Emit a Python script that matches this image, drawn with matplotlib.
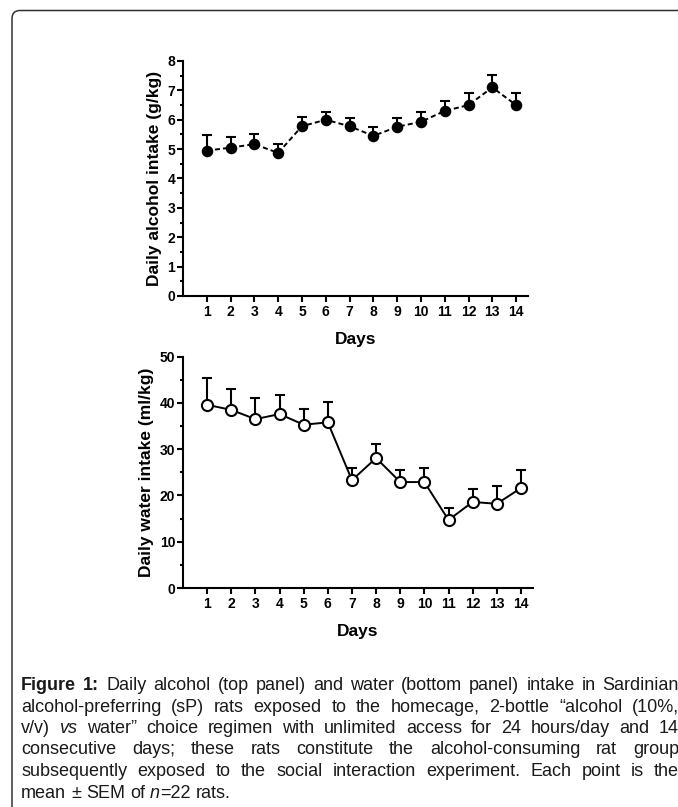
import matplotlib
matplotlib.use("Agg")
import matplotlib.pyplot as plt
from matplotlib.patches import FancyBboxPatch
from matplotlib.ticker import MultipleLocator

# data
days = list(range(1, 15))
alcohol_mean = [4.95, 5.05, 5.17, 4.87, 5.78, 6.00, 5.78, 5.45, 5.76, 5.93, 6.30, 6.50, 7.10, 6.50]
alcohol_sem = [0.54, 0.35, 0.35, 0.30, 0.31, 0.28, 0.29, 0.30, 0.31, 0.35, 0.35, 0.40, 0.42, 0.42]
water_mean = [39.6, 38.5, 36.5, 37.6, 35.3, 35.8, 23.3, 28.1, 22.9, 22.9, 14.7, 18.6, 18.2, 21.6]
water_sem = [5.9, 4.6, 4.5, 4.1, 3.3, 4.3, 2.7, 3.0, 2.6, 3.1, 2.6, 2.8, 3.9, 3.8]

# caption, one entry per printed line; "b:" bold, "i:" italic, "|" joins segments
caption_lines = [
    "b:Figure b:1: Daily alcohol (top panel) and water (bottom panel) intake in Sardinian",
    "alcohol-preferring (sP) rats exposed to the homecage, 2-bottle \u201calcohol (10%,",
    "v/v) i:vs water\u201d choice regimen with unlimited access for 24 hours/day and 14",
    "consecutive days; these rats constitute the alcohol-consuming rat group",
    "subsequently exposed to the social interaction experiment. Each point is the",
    "mean \u00b1 SEM of i:n|=22 rats.",
]

plt.rcParams['font.family'] = ['Liberation Sans', 'DejaVu Sans']
plt.rcParams['font.weight'] = 'bold'
cap_size = 13

W, H = 678, 807
fig = plt.figure(figsize=(W / 100, H / 100), dpi=100)

# overlay in pixel coords for the frame and caption
bg = fig.add_axes([0, 0, 1, 1], zorder=-1)
bg.set_xlim(0, W)
bg.set_ylim(H, 0)
bg.axis('off')
bg.add_patch(FancyBboxPatch((12, 10.5), 800, 900, boxstyle='round,pad=0,rounding_size=8',
                            lw=1.1, ec='#333333', fc='none'))


def style_axes(ax, ymax, ymajor, yminor, ylabel):
    ax.set_facecolor('none')
    for s in ['top', 'right']:
        ax.spines[s].set_visible(False)
    for s in ['left', 'bottom']:
        ax.spines[s].set_linewidth(1.5)
    ax.set_xlim(0, 14.5)
    ax.set_ylim(0, ymax)
    ax.set_xticks(days)
    ax.yaxis.set_major_locator(MultipleLocator(ymajor))
    ax.yaxis.set_minor_locator(MultipleLocator(yminor))
    ax.tick_params(which='major', length=4.5, width=1.5, labelsize=10, pad=2)
    ax.tick_params(which='minor', length=2.5, width=1.5)
    ax.tick_params(axis='y', pad=1)
    ax.set_xlabel('Days', fontsize=12.5, fontweight='bold', labelpad=9)
    ax.set_ylabel(ylabel, fontsize=12.5, fontweight='bold', labelpad=4)


# top panel: alcohol
ax1 = fig.add_axes([183 / W, 1 - 296 / H, 345 / W, 235 / H])
ax1.errorbar(days, alcohol_mean, yerr=[[0] * 14, alcohol_sem], fmt='none', ecolor='black',
             elinewidth=1.5, capsize=3.6, capthick=1.5, zorder=2, clip_on=False)
ax1.plot(days, alcohol_mean, color='black', lw=1.4, linestyle=(0, (2.6, 1.6)),
         marker='o', markersize=7.3, markerfacecolor='black', markeredgecolor='black',
         zorder=3, clip_on=False)
style_axes(ax1, 8, 1, 0.5, 'Daily alcohol intake (g/kg)')

# bottom panel: water
ax2 = fig.add_axes([183 / W, 1 - 588 / H, 350 / W, 231.3 / H])
ax2.errorbar(days, water_mean, yerr=[[0] * 14, water_sem], fmt='none', ecolor='black',
             elinewidth=1.5, capsize=3.6, capthick=1.5, zorder=2, clip_on=False)
ax2.plot(days, water_mean, color='black', lw=1.4, marker='o', markersize=8,
         markerfacecolor='white', markeredgecolor='black', markeredgewidth=1.5,
         zorder=3, clip_on=False)
style_axes(ax2, 50, 10, 5, 'Daily water intake (ml/kg)')

# caption, justified by hand
renderer = fig.canvas.get_renderer()
x0, x1 = 21, 679
baselines = [690, 711.5, 733, 754.5, 776, 797.5]


def make_seg(tok):
    weight, style = 'normal', 'normal'
    if tok.startswith('b:'):
        weight, tok = 'bold', tok[2:]
    elif tok.startswith('i:'):
        style, tok = 'italic', tok[2:]
    return bg.text(0, 0, tok, fontsize=cap_size, fontweight=weight, fontstyle=style,
                   color='#1a1a1a', va='baseline', ha='left')


space_t = make_seg(' ')
space = space_t.get_window_extent(renderer).width
space_t.remove()

for i, line in enumerate(caption_lines):
    words = []
    for w in line.split(' '):
        segs = [make_seg(s) for s in w.split('|')]
        widths = [s.get_window_extent(renderer).width for s in segs]
        words.append((segs, widths))
    total = sum(sum(ws) for _, ws in words)
    if i < len(caption_lines) - 1:
        gap = (x1 - x0 - total) / (len(words) - 1)
    else:
        gap = space
    x = x0
    for segs, widths in words:
        for s, wd in zip(segs, widths):
            s.set_position((x, baselines[i]))
            x += wd
        x += gap

fig.savefig('out.png', dpi=100)
